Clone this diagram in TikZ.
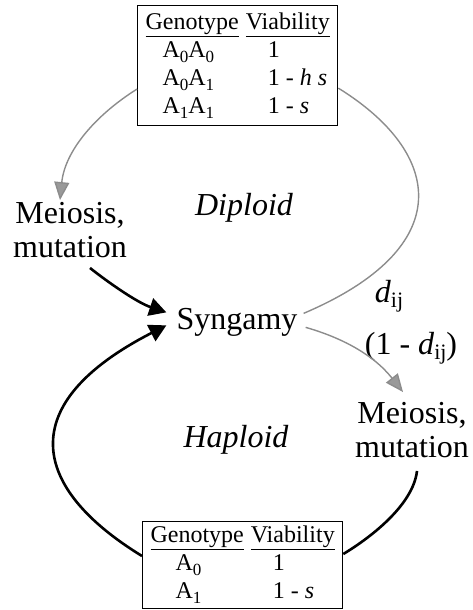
\documentclass[tikz,border=0pt]{standalone}
\usepackage{fontspec}
\setmainfont{Liberation Serif}
\usetikzlibrary{arrows.meta}
\definecolor{screen}{gray}{0.55}
\definecolor{screenhead}{gray}{0.6}
\newcommand{\tabfont}{\fontsize{24}{28}\selectfont}
\newcommand{\lblfont}{\fontsize{32}{34}\selectfont}
\newcommand{\lowsub}[2][17]{\raisebox{-5pt}{\fontsize{#1}{#1}\selectfont #2}}

\begin{document}
\begin{tikzpicture}[x=1pt,y=-1pt,
    lbl/.style={inner sep=0pt,font=\lblfont,align=center},
    phase/.style={lbl,anchor=base,font=\lblfont\itshape},
    tab/.style={draw,line width=1.1pt,inner xsep=8pt,inner ysep=4pt,anchor=north west,font=\tabfont},
    gline/.style={draw=screen,line width=1.4pt},
    garrow/.style={gline,-{Triangle[length=18pt,width=15pt,fill=screenhead]}},
    bline/.style={line width=2.6pt},
    barrow/.style={bline,-{Triangle[length=17pt,width=18pt]}},
]
    \useasboundingbox (0,0) rectangle (472,610);

    \node[tab] (diptab) at (137,5) {\begin{tabular}{@{}l@{\hspace{7pt}}l@{}}
        \underline{Genotype} & \underline{Viability}\\
        \hspace*{17pt}A\lowsub{0}A\lowsub{0} & \hspace*{22pt}1\\
        \hspace*{17pt}A\lowsub{0}A\lowsub{1} & \hspace*{22pt}1 - \textit{h s}\\
        \hspace*{17pt}A\lowsub{1}A\lowsub{1} & \hspace*{22pt}1 - \textit{s}
    \end{tabular}};
    \node[tab,inner ysep=1.5pt] (haptab) at (142,521) {\begin{tabular}{@{}l@{\hspace{7pt}}l@{}}
        \underline{Genotype} & \underline{Viability}\\
        \hspace*{25pt}A\lowsub{0} & \hspace*{22pt}1\\
        \hspace*{25pt}A\lowsub{1} & \hspace*{22pt}1 - \textit{s}
    \end{tabular}};

    \node[lbl] (meiL) at (70,230) {Meiosis,\\mutation};
    \node[lbl] (meiR) at (412,430) {Meiosis,\\mutation};
    \node[lbl,anchor=base] (syn) at (237,329) {Syngamy};
    \node[phase] (dipl) at (244,215) {Diploid};
    \node[phase] (hapl) at (236,447) {Haploid};
    \node[lbl,anchor=base] (dprob) at (389,302) {\textit{d}\lowsub[22]{ij}};
    \node[lbl,anchor=base] (cprob) at (411,354) {(1 - \textit{d}\lowsub[22]{ij})};

    \draw[garrow] ([yshift=37pt]diptab.south west) .. controls +(-40,25) and +(5,-50) .. ([xshift=-10pt,yshift=2pt]meiL.north);
    \draw[gline] ([yshift=38pt]diptab.south east) .. controls +(105,65) and +(155,-66) .. ([xshift=6pt,yshift=8.5pt]syn.east);
    \draw[garrow] ([xshift=8pt,yshift=-5.5pt]syn.east) .. controls +(35,10) and +(-30,-38) .. ([xshift=-9pt,yshift=10pt]meiR.north);
    \draw[barrow] ([xshift=20pt,yshift=-10pt]meiL.south) .. controls +(15,12) and +(-30,-10) .. ([xshift=-10pt,yshift=9.5pt]syn.west);
    \draw[bline] ([xshift=5pt,yshift=-13pt]meiR.south) .. controls +(-4,35) and +(25,-15) .. ([yshift=-33pt]haptab.north east);
    \draw[barrow] ([yshift=-35pt]haptab.north west) .. controls +(-111,-68) and +(-154,79) .. ([xshift=-10pt,yshift=-3.5pt]syn.west);
\end{tikzpicture}
\end{document}
